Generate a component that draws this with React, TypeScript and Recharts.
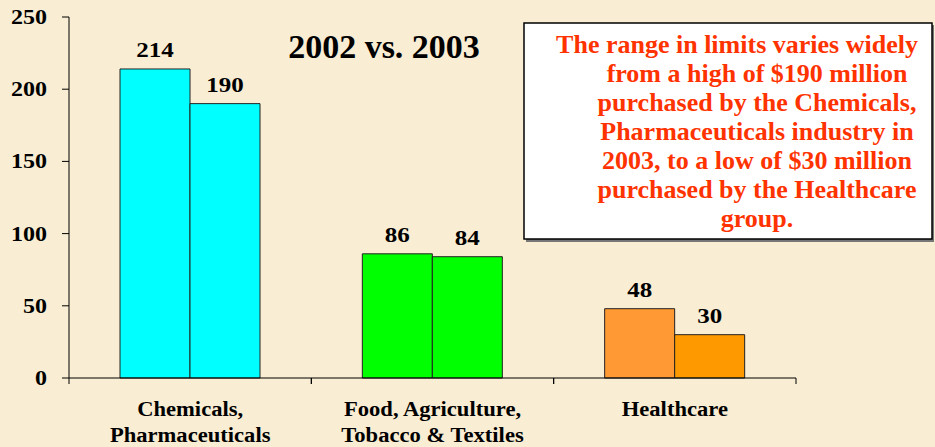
import React from 'react';
import { BarChart, Bar, XAxis, YAxis, Cell, LabelList } from 'recharts';

const categories = ['Chemicals,\nPharmaceuticals', 'Food, Agriculture,\nTobacco & Textiles', 'Healthcare'];
const values2002 = [214, 86, 48];
const values2003 = [190, 84, 30];
const yTicks = [0, 50, 100, 150, 200, 250];
const chartTitle = '2002 vs. 2003';
const noteLines = [
  'The range in limits varies widely',
  'from a high of $190 million',
  'purchased by the Chemicals,',
  'Pharmaceuticals industry in',
  '2003, to a low of $30 million',
  'purchased by the Healthcare',
  'group.',
];

const colors2002 = ['#00FFFF', '#00FF00', '#FF9933'];
const colors2003 = ['#00FFFF', '#00FF00', '#FF9900'];

const W = 935;
const H = 447;
const M = { top: 17, right: 139, bottom: 0, left: 0 };
const Y_W = 69;
const X_H = 69;
const FONT = "'Liberation Serif', 'Times New Roman', Times, serif";
const BG = '#F9EDD3';
const txt: React.CSSProperties = { fontFamily: FONT, fontWeight: 700 };

const data = categories.map((c, i) => ({ category: c, y2002: values2002[i], y2003: values2003[i] }));
const band = (W - M.left - Y_W - M.right) / categories.length;

const XTick = (props: any) => {
  const { x, y, payload } = props;
  const lines = String(payload.value).split('\n');
  return (
    <g>
      <line x1={x - band / 2} x2={x - band / 2} y1={y} y2={y + 6} stroke="#000" strokeWidth={1} />
      <line x1={x + band / 2} x2={x + band / 2} y1={y} y2={y + 6} stroke="#000" strokeWidth={1} />
      {lines.map((l, i) => (
        <text
          key={i}
          transform={`translate(${x},${y + 38 + i * 25.5}) scale(1.13,1)`}
          textAnchor="middle"
          style={{ ...txt, fontSize: 20 }}
          fill="#000"
        >
          {l}
        </text>
      ))}
    </g>
  );
};

const YTick = (props: any) => {
  const { x, y, payload } = props;
  return (
    <text
      transform={`translate(${x},${y + 7}) scale(1.2,1)`}
      textAnchor="end"
      style={{ ...txt, fontSize: 20 }}
      fill="#000"
    >
      {payload.value}
    </text>
  );
};

const ValueLabel = (props: any) => {
  const { x, y, width, value } = props;
  const cx = Number(x) + Number(width) / 2;
  return (
    <text
      transform={`translate(${cx},${Number(y) - 12}) scale(1.25,1)`}
      textAnchor="middle"
      style={{ ...txt, fontSize: 20 }}
      fill="#000"
    >
      {value}
    </text>
  );
};

export default function App() {
  return (
    <div style={{ position: 'fixed', left: 0, top: 0, width: W, height: H, background: BG, overflow: 'hidden', fontFamily: FONT }}>
      <BarChart width={W} height={H} data={data} margin={M} barGap={0} barSize={70} style={{ fontFamily: FONT }}>
        <XAxis
          dataKey="category"
          height={X_H}
          interval={0}
          axisLine={{ stroke: '#000', strokeWidth: 1 }}
          tickLine={false}
          tickSize={0}
          tickMargin={0}
          tick={<XTick />}
        />
        <YAxis
          width={Y_W}
          domain={[0, 250]}
          ticks={yTicks}
          interval={0}
          axisLine={{ stroke: '#000', strokeWidth: 1 }}
          tickLine={{ stroke: '#000', strokeWidth: 1 }}
          tickSize={7}
          tickMargin={15}
          tick={<YTick />}
        />
        <Bar dataKey="y2002" isAnimationActive={false} stroke="#222" strokeWidth={1}>
          {data.map((_, i) => (
            <Cell key={i} fill={colors2002[i]} />
          ))}
          <LabelList dataKey="y2002" content={<ValueLabel />} />
        </Bar>
        <Bar dataKey="y2003" isAnimationActive={false} stroke="#222" strokeWidth={1}>
          {data.map((_, i) => (
            <Cell key={i} fill={colors2003[i]} />
          ))}
          <LabelList dataKey="y2003" content={<ValueLabel />} />
        </Bar>
      </BarChart>
      <svg width={W} height={H} style={{ position: 'absolute', left: 0, top: 0, pointerEvents: 'none' }}>
        <text x={384} y={57.5} textAnchor="middle" style={{ ...txt, fontSize: 34 }} fill="#000">
          {chartTitle}
        </text>
        <rect x={526} y={25} width={408} height={217} fill="#777" />
        <rect x={524} y={23} width={408} height={216} fill="#FFFFFF" stroke="#000" strokeWidth={1.5} />
        {noteLines.map((l, i) => (
          <text
            key={i}
            x={i === 0 ? 737 : 757}
            y={52.7 + i * 29}
            textAnchor="middle"
            style={{ ...txt, fontSize: 26 }}
            fill="#FF3300"
          >
            {l}
          </text>
        ))}
      </svg>
    </div>
  );
}
